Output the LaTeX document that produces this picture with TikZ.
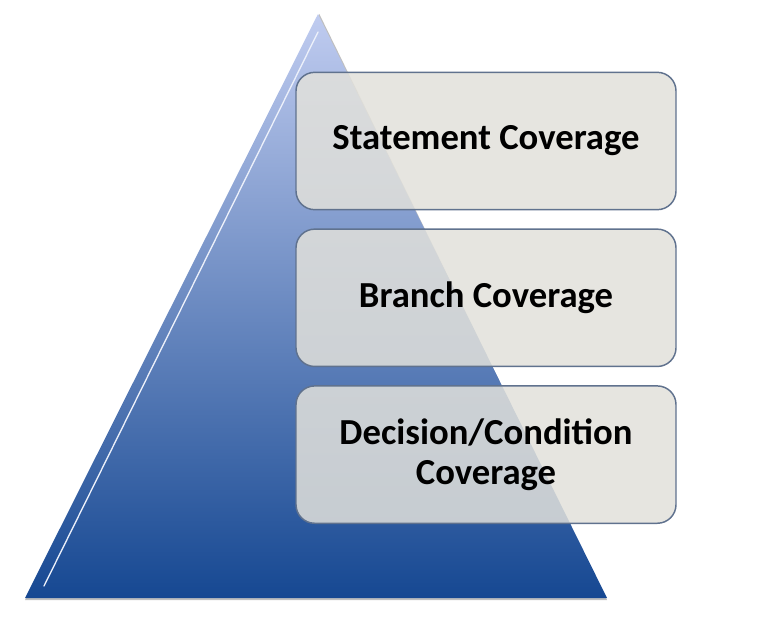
\documentclass[tikz,border=0pt]{standalone}
\usepackage{fontspec}
\setmainfont{Carlito}
\usetikzlibrary{positioning}
\definecolor{P0}{RGB}{192,204,240}
\definecolor{P1}{RGB}{22,72,146}
\definecolor{B0}{RGB}{226,225,219}
\definecolor{B1}{RGB}{96,114,142}

\tikzset{
    level/.style={draw=B1,line width=1.1pt,fill=B0,fill opacity=0.85,text opacity=1,
        rounded corners=14pt,minimum width=285pt,minimum height=103pt,
        align=center,font=\fontsize{27.5}{29.5}\selectfont\bfseries},
}

\begin{document}
\begin{tikzpicture}[x=0.75pt,y=-0.75pt,node distance=13.5pt]
                \useasboundingbox (0,0) rectangle (762,638);
                % pyramid
                \coordinate (apex) at (318,14);
                \coordinate (bl) at (25,598);
                \coordinate (br) at (607,598);
                \fill[black!25] ([yshift=-1.5pt]bl) -- ([yshift=-1.5pt]br) -- ([xshift=1pt]apex) -- cycle;
                \shade[top color=P0,bottom color=P1] (apex) -- (br) -- (bl) -- cycle;
                \draw[white!70!P0,line width=1pt,line cap=round] (318,32) -- (44,586);

                % levels
                \node[level] (stmt) at (486,141) {Statement Coverage};
                \node[level,below=of stmt] (branch) {Branch Coverage};
                \node[level,below=of branch] (decision) {Decision/Condition\\Coverage};
            \end{tikzpicture}
\end{document}
